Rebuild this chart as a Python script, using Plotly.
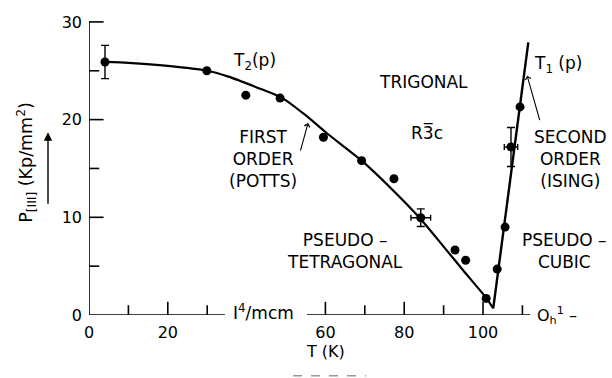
import plotly.graph_objects as go

# ---------------- data ----------------
# measured points: temperature T (K), pressure P (Kp/mm^2), error bars
T_pts = [4.06, 29.9, 39.8, 48.5, 59.5, 69.2, 77.4, 84.2, 92.9, 95.6, 100.8, 103.6, 105.6, 107.1, 109.4]
P_pts = [25.9, 25.0, 22.5, 22.2, 18.2, 15.8, 13.95, 9.96, 6.65, 5.6, 1.7, 4.7, 9.0, 17.2, 21.3]
T_err = [0, 0, 0, 0, 0, 0, 0, 2.5, 0, 0, 0, 0, 0, 1.7, 0]
P_err = [1.7, 0, 0, 0, 0, 0, 0, 0.9, 0, 0, 0, 0, 0, 2.0, 0]

# first-order (Potts) line T2(p)
T2_T = [4.06, 10, 20, 30, 35.4, 43.8, 48.9, 54.8, 60.7, 69.2, 77.2, 84.0, 90, 95, 100.9, 102.6]
T2_P = [25.9, 25.8, 25.5, 25.0, 24.4, 23.1, 22.25, 20.5, 18.5, 15.8, 12.75, 9.9, 7.0, 4.55, 1.7, 0.68]

# second-order (Ising) line T1(p)
T1_T = [102.6, 111.5]
T1_P = [0.68, 27.9]

# axis ticks
x_tick_labels = [0, 20, 60, 80, 100]
x_major_ticks = [20, 60, 80, 100]
x_minor_ticks = [10, 30, 70, 90, 110]
x_axis_segments = [(0, 34.5), (55.3, 112)]
y_tick_labels = [0, 10, 20, 30]
y_major_ticks = [10, 20, 30]
y_minor_ticks = [5, 15, 25]

FONT = "DejaVu Sans"
BLACK = "black"

fig = go.Figure()

fig.add_trace(go.Scatter(x=T2_T, y=T2_P, mode="lines",
                         line=dict(color=BLACK, width=2.2, shape="spline", smoothing=0.6),
                         cliponaxis=False, hoverinfo="skip"))
fig.add_trace(go.Scatter(x=T1_T, y=T1_P, mode="lines",
                         line=dict(color=BLACK, width=2.4),
                         cliponaxis=False, hoverinfo="skip"))
fig.add_trace(go.Scatter(
    x=T_pts, y=P_pts, mode="markers",
    marker=dict(color=BLACK, size=9),
    error_x=dict(type="data", array=T_err, color=BLACK, thickness=1.4, width=3),
    error_y=dict(type="data", array=P_err, color=BLACK, thickness=1.4, width=4),
    cliponaxis=False))

shapes = []
line_style = dict(color=BLACK, width=1.6)
# y axis line
shapes.append(dict(type="line", xref="x", yref="y", x0=0, x1=0, y0=0, y1=30, line=line_style))
# x axis segments
for a, b in x_axis_segments:
    shapes.append(dict(type="line", xref="x", yref="y", x0=a, x1=b, y0=0, y1=0, line=line_style))
for t in x_major_ticks:
    shapes.append(dict(type="line", xref="x", yref="y", x0=t, x1=t, y0=0, y1=1.35, line=line_style))
for t in x_minor_ticks:
    shapes.append(dict(type="line", xref="x", yref="y", x0=t, x1=t, y0=0, y1=1.0, line=line_style))
for p in y_major_ticks:
    shapes.append(dict(type="line", xref="x", yref="y", x0=0, x1=3.7, y0=p, y1=p, line=line_style))
for p in y_minor_ticks:
    shapes.append(dict(type="line", xref="x", yref="y", x0=0, x1=2.6, y0=p, y1=p, line=line_style))
# dashed arrow under T (K)
shapes.append(dict(type="line", xref="paper", yref="paper", x0=(293 - 89) / 513, x1=(366 - 89) / 513,
                   y0=-0.199, y1=-0.199, line=dict(color="#999999", width=1.5, dash="dash")))

f17 = dict(family=FONT, size=17, color=BLACK)
f16 = dict(family=FONT, size=16, color=BLACK)

annotations = [
    dict(x=42, y=25.9, text="T<sub>2</sub>(p)", showarrow=False, font=f17),
    dict(x=119, y=25.6, text="T<sub>1</sub> (p)", showarrow=False, font=f17),
    dict(x=85, y=23.9, text="TRIGONAL", showarrow=False, font=f17),
    dict(x=85.8, y=18.7, text="R3\u0305c", showarrow=False, font=f17),
    dict(x=44.2, y=16.0, text="FIRST<br>ORDER<br>(POTTS)", showarrow=False, font=f17),
    dict(x=122.2, y=16.0, text="SECOND<br>ORDER<br>(ISING)", showarrow=False, font=f17),
    dict(x=65.0, y=6.6, text="PSEUDO \u2013<br>TETRAGONAL", showarrow=False, font=f17),
    dict(x=120.8, y=6.6, text="PSEUDO \u2013<br>CUBIC", showarrow=False, font=f17),
    dict(x=44.2, y=0.3, text="I<sup>4</sup>/mcm", showarrow=False,
         font=dict(family=FONT, size=17, color=BLACK), bgcolor="white"),
    dict(x=118.8, y=0.0, text="O<sub>h</sub><sup>1</sup> \u2013", showarrow=False, font=f16),
    dict(xref="paper", yref="paper", x=(325 - 89) / 513, y=-0.157, text="T (K)",
         showarrow=False, font=f16),
    # arrows
    dict(x=55.6, y=19.65, ax=-8, ay=29, text="", showarrow=True, arrowhead=4,
         arrowsize=1, arrowwidth=1.1, arrowcolor=BLACK),
    dict(x=111.2, y=24.5, ax=13, ay=46, text="", showarrow=True, arrowhead=4,
         arrowsize=1, arrowwidth=1.1, arrowcolor=BLACK),
    dict(xref="paper", yref="y", x=(48 - 89) / 513, y=18.7, ax=0, ay=73, text="",
         showarrow=True, arrowhead=2, arrowsize=1.2, arrowwidth=1.4, arrowcolor=BLACK),
]

fig.update_layout(
    width=612, height=378,
    margin=dict(l=89, r=10, t=10, b=63),
    paper_bgcolor="white", plot_bgcolor="white",
    showlegend=False,
    shapes=shapes, annotations=annotations,
    xaxis=dict(range=[0, 130.2], tickvals=x_tick_labels, ticktext=[str(v) for v in x_tick_labels],
               showgrid=False, zeroline=False, showline=False, ticks="", automargin=False,
               tickfont=f16, ticklabelstandoff=6),
    yaxis=dict(range=[0, 31.22], tickvals=y_tick_labels, ticktext=[str(v) for v in y_tick_labels],
               showgrid=False, zeroline=False, showline=False, ticks="", automargin=False,
               tickfont=f16, ticklabelstandoff=6,
               title=dict(text="P<sub>[III]</sub> (Kp/mm<sup>2</sup>)",
                          font=dict(family=FONT, size=17.5, color=BLACK), standoff=24)),
)

fig.write_html("out.html", config={"displayModeBar": False},
               post_script="document.body.style.margin='0';document.body.style.overflow='hidden';")
